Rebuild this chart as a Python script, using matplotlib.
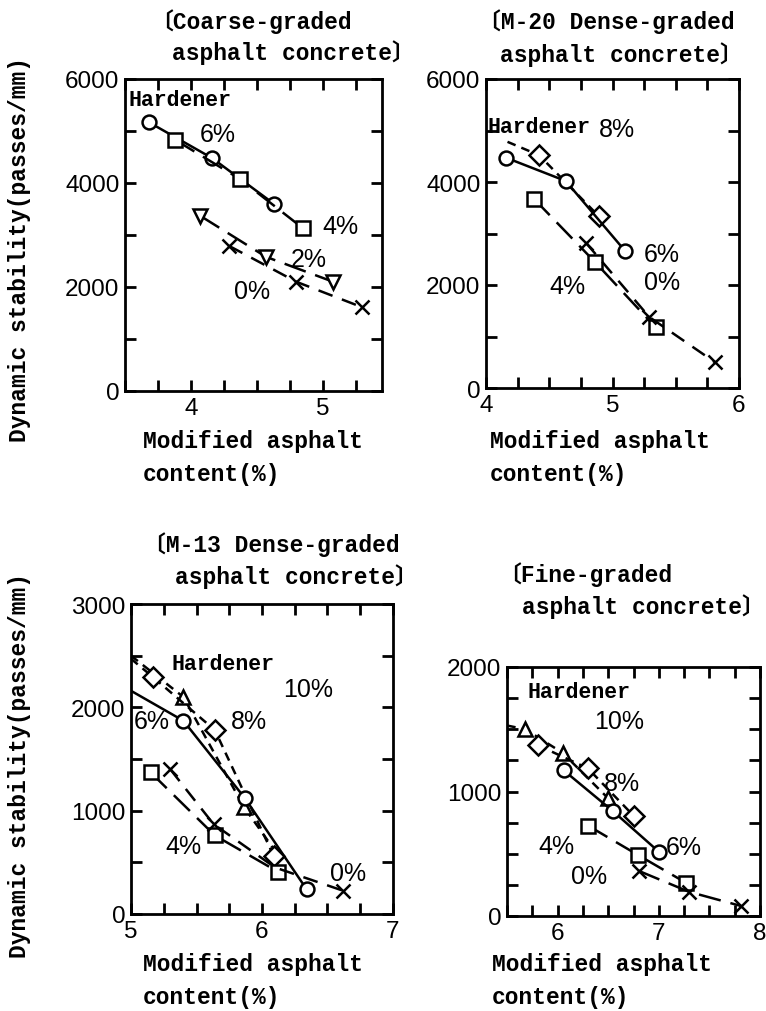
import matplotlib
matplotlib.use("Agg")
import matplotlib.pyplot as plt
from matplotlib.ticker import MultipleLocator

W, H = 766, 1012

# --- data (x: modified asphalt %, y: passes/mm) ---
# Coarse-graded asphalt concrete
coarse_x6 = [3.68, 4.16, 4.63]
coarse_y6 = [5170, 4480, 3600]
coarse_x4 = [3.88, 4.37, 4.85]
coarse_y4 = [4830, 4080, 3130]
coarse_x2 = [4.07, 4.57, 5.08]
coarse_y2 = [3370, 2580, 2100]
coarse_x0 = [4.29, 4.80, 5.30]
coarse_y0 = [2790, 2100, 1610]

# M-20 dense-graded
m20_x8 = [4.17, 4.42, 4.89]
m20_y8 = [4780, 4520, 3340]
m20_x6 = [4.16, 4.63, 5.10]
m20_y6 = [4470, 4020, 2660]
m20_x4 = [4.38, 4.86, 5.34]
m20_y4 = [3670, 2450, 1180]
m20_x0 = [4.79, 5.29, 5.81]
m20_y0 = [2820, 1380, 500]

# M-13 dense-graded
m13_x10 = [5.0, 5.40, 5.86, 6.15]
m13_y10 = [2500, 2100, 1040, 520]
m13_x8 = [5.0, 5.17, 5.64, 6.09]
m13_y8 = [2470, 2290, 1780, 560]
m13_x6 = [5.0, 5.40, 5.87, 6.34]
m13_y6 = [2160, 1870, 1120, 240]
m13_x4 = [5.15, 5.64, 6.12]
m13_y4 = [1370, 760, 410]
m13_x0 = [5.30, 5.63, 6.10, 6.62]
m13_y0 = [1400, 870, 450, 225]

# Fine-graded
fine_x10 = [5.5, 5.68, 6.05, 6.5]
fine_y10 = [1530, 1500, 1310, 945]
fine_x8 = [5.81, 6.30, 6.75]
fine_y8 = [1370, 1185, 806]
fine_x6 = [6.06, 6.55, 7.0]
fine_y6 = [1170, 840, 516]
fine_x4 = [6.30, 6.79, 7.27]
fine_y4 = [726, 492, 266]
fine_x0 = [6.80, 7.30, 7.81]
fine_y0 = [363, 194, 81]

MONO = ["Liberation Mono", "Noto Sans CJK JP"]
SANS = "Liberation Sans"

plt.rcParams["font.family"] = SANS
plt.rcParams["axes.linewidth"] = 2.0

fig = plt.figure(figsize=(W / 100, H / 100), dpi=100)


def frac(px, py):
    return px / W, 1 - py / H


def make_axes(left, right, top, bottom, xlim, ylim, xmaj, xmin, ymaj, ymin):
    ax = fig.add_axes([left / W, 1 - bottom / H, (right - left) / W, (bottom - top) / H])
    ax.set_xlim(*xlim)
    ax.set_ylim(*ylim)
    ax.xaxis.set_major_locator(MultipleLocator(xmaj))
    ax.xaxis.set_minor_locator(MultipleLocator(xmin))
    ax.yaxis.set_major_locator(MultipleLocator(ymaj))
    ax.yaxis.set_minor_locator(MultipleLocator(ymin))
    ax.tick_params(which="both", direction="in", top=True, right=True,
                   length=8, width=2, labelsize=17.5, pad=4)
    return ax


def line(ax, x, y, marker, ls, markevery=None):
    ax.plot(x, y, color="black", linestyle=ls, linewidth=1.8, marker=marker,
            markersize=10, markerfacecolor="white", markeredgecolor="black",
            markeredgewidth=1.8, markevery=markevery, clip_on=True)


def label(ax, x, y, s, mono=False):
    if mono:
        ax.text(x, y, s, family=MONO, fontsize=15.5, weight="bold",
                ha="left", va="center")
    else:
        ax.text(x, y, s, fontsize=18, ha="left", va="center")


solid = "-"
longdash = (0, (9, 4))
dash = (0, (6, 4))
shortdash = (0, (3.5, 2.5))

# ---- Coarse-graded ----
ax1 = make_axes(125, 382, 80, 392, (3.5, 5.45), (0, 6000), 1, 0.25, 2000, 1000)
line(ax1, coarse_x6, coarse_y6, "o", solid)
line(ax1, coarse_x4, coarse_y4, "s", longdash)
line(ax1, coarse_x2, coarse_y2, "v", longdash)
line(ax1, coarse_x0, coarse_y0, "x", dash)
label(ax1, 3.53, 5615, "Hardener", mono=True)
label(ax1, 4.07, 4940, "6%")
label(ax1, 5.0, 3170, "4%")
label(ax1, 4.76, 2540, "2%")
label(ax1, 4.33, 1920, "0%")

# ---- M-20 dense-graded ----
ax2 = make_axes(486, 739, 80, 389, (4, 6), (0, 6000), 1, 0.25, 2000, 1000)
line(ax2, m20_x8, m20_y8, "D", shortdash, markevery=[1, 2])
line(ax2, m20_x6, m20_y6, "o", solid)
line(ax2, m20_x4, m20_y4, "s", longdash)
line(ax2, m20_x0, m20_y0, "x", dash)
label(ax2, 4.01, 5070, "Hardener", mono=True)
label(ax2, 4.89, 5030, "8%")
label(ax2, 5.25, 2600, "6%")
label(ax2, 5.25, 2060, "0%")
label(ax2, 4.5, 1980, "4%")

# ---- M-13 dense-graded ----
ax3 = make_axes(131, 393, 605, 915, (5, 7), (0, 3000), 1, 0.25, 1000, 500)
line(ax3, m13_x10, m13_y10, "^", shortdash, markevery=[1, 2])
line(ax3, m13_x8, m13_y8, "D", shortdash, markevery=[1, 2, 3])
line(ax3, m13_x6, m13_y6, "o", solid, markevery=[1, 2, 3])
line(ax3, m13_x4, m13_y4, "s", longdash)
line(ax3, m13_x0, m13_y0, "x", dash, markevery=[0, 1, 3])
label(ax3, 5.31, 2420, "Hardener", mono=True)
label(ax3, 6.16, 2180, "10%")
label(ax3, 5.76, 1870, "8%")
label(ax3, 5.02, 1870, "6%")
label(ax3, 5.26, 660, "4%")
label(ax3, 6.52, 400, "0%")

# ---- Fine-graded ----
ax4 = make_axes(507, 760, 668, 917, (5.5, 8), (0, 2000), 1, 0.25, 1000, 250)
line(ax4, fine_x10, fine_y10, "^", shortdash, markevery=[1, 2, 3])
line(ax4, fine_x8, fine_y8, "D", shortdash)
line(ax4, fine_x6, fine_y6, "o", solid)
line(ax4, fine_x4, fine_y4, "s", longdash)
line(ax4, fine_x0, fine_y0, "x", longdash)
label(ax4, 5.7, 1800, "Hardener", mono=True)
label(ax4, 6.36, 1570, "10%")
label(ax4, 6.46, 1065, "8%")
label(ax4, 7.07, 556, "6%")
label(ax4, 5.81, 565, "4%")
label(ax4, 6.13, 325, "0%")

# ---- titles, axis labels ----
TXT = dict(family=MONO, fontsize=16.5, weight="bold", va="center")
titles = [
    (150, 22, "〔Coarse-graded"), (172, 53, "asphalt concrete〕"),
    (478, 22, "〔M-20 Dense-graded"), (500, 55, "asphalt concrete〕"),
    (143, 545, "〔M-13 Dense-graded"), (175, 577, "asphalt concrete〕"),
    (498, 575, "〔Fine-graded"), (522, 607, "asphalt concrete〕"),
]
for px, py, s in titles:
    fig.text(*frac(px, py), s, ha="left", **TXT)

for px, py in [(143, 442), (490, 442), (143, 965), (492, 965)]:
    fig.text(*frac(px, py), "Modified asphalt", ha="left", **TXT)
    fig.text(*frac(px, py + 33), "content(%)", ha="left", **TXT)

for py in [250, 766]:
    fig.text(*frac(20, py), "Dynamic stability(passes/mm)", rotation=90,
             ha="center", **TXT)

fig.savefig("out.png", dpi=100)
